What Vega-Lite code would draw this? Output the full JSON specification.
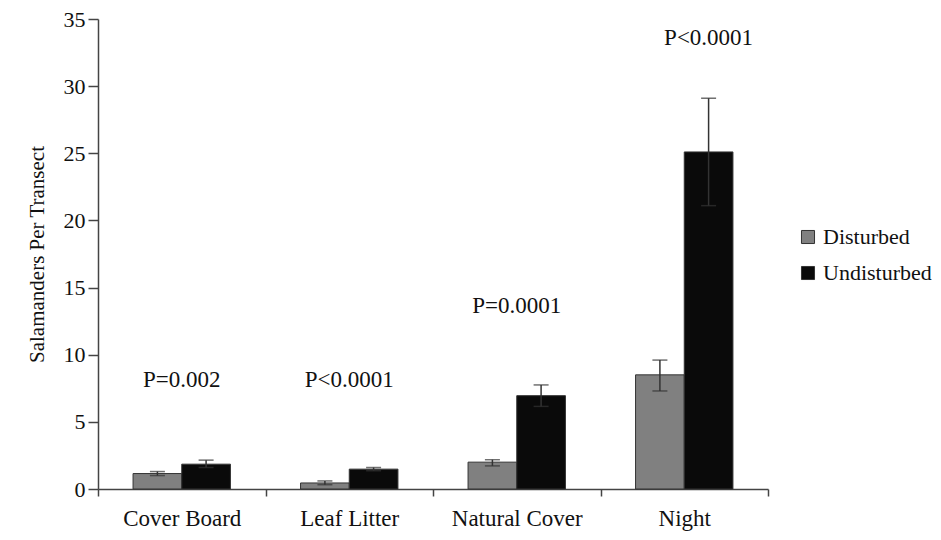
{
  "$schema": "https://vega.github.io/schema/vega-lite/v6.json",
  "autosize": {"type": "none"},
  "width": 670,
  "height": 470,
  "padding": {"left": 98, "top": 19, "right": 173, "bottom": 51},
  "background": "white",
  "config": {
    "font": "'Liberation Serif', 'Times New Roman', serif",
    "view": {"stroke": null},
    "axis": {
      "domainColor": "#444",
      "tickColor": "#444",
      "domainWidth": 1.5,
      "tickWidth": 1.5,
      "labelColor": "#111",
      "titleColor": "#111",
      "labelFont": "'Liberation Serif', 'Times New Roman', serif",
      "titleFont": "'Liberation Serif', 'Times New Roman', serif",
      "grid": false
    }
  },
  "datasets": {
    "counts": [
      {"method": "Cover Board", "site": "Disturbed", "mean": 1.15, "lo": 1.0, "hi": 1.3},
      {"method": "Cover Board", "site": "Undisturbed", "mean": 1.85, "lo": 1.6, "hi": 2.15},
      {"method": "Leaf Litter", "site": "Disturbed", "mean": 0.45, "lo": 0.32, "hi": 0.6},
      {"method": "Leaf Litter", "site": "Undisturbed", "mean": 1.48, "lo": 1.36, "hi": 1.6},
      {"method": "Natural Cover", "site": "Disturbed", "mean": 2.0, "lo": 1.72, "hi": 2.18},
      {"method": "Natural Cover", "site": "Undisturbed", "mean": 6.95, "lo": 6.15, "hi": 7.75},
      {"method": "Night", "site": "Disturbed", "mean": 8.5, "lo": 7.3, "hi": 9.6},
      {"method": "Night", "site": "Undisturbed", "mean": 25.1, "lo": 21.1, "hi": 29.1}
    ],
    "tests": [
      {"method": "Cover Board", "p": "P=0.002", "at": 8.1},
      {"method": "Leaf Litter", "p": "P<0.0001", "at": 8.1},
      {"method": "Natural Cover", "p": "P=0.0001", "at": 13.6},
      {"method": "Night", "p": "P<0.0001", "at": 33.6}
    ]
  },
  "layer": [
    {
      "data": {"name": "counts"},
      "mark": {"type": "bar", "stroke": "#333", "strokeWidth": 1},
      "encoding": {
        "x": {
          "field": "method", "type": "nominal", "sort": null,
          "scale": {"paddingInner": 0, "paddingOuter": 0},
          "axis": {
            "title": null, "labelAngle": 0, "labelFontSize": 23,
            "tickBand": "extent", "tickSize": 7, "labelPadding": 11
          }
        },
        "xOffset": {
          "field": "site", "type": "nominal", "sort": null,
          "scale": {"paddingInner": 0, "paddingOuter": 0.72}
        },
        "y": {
          "field": "mean", "type": "quantitative",
          "scale": {"domain": [0, 35], "nice": false},
          "axis": {
            "values": [0, 5, 10, 15, 20, 25, 30, 35],
            "title": "Salamanders Per Transect",
            "titleFontSize": 21, "titleFontWeight": "normal",
            "titlePadding": 16,
            "labelFontSize": 22, "tickSize": 10, "labelPadding": 3
          }
        },
        "color": {
          "field": "site", "type": "nominal",
          "scale": {"domain": ["Disturbed", "Undisturbed"], "range": ["#808080", "#0a0a0a"]},
          "legend": {
            "title": null, "orient": "none", "legendX": 699, "legendY": 207,
            "symbolType": "square", "symbolSize": 170,
            "symbolStrokeColor": "#333", "symbolStrokeWidth": 1,
            "labelFontSize": 22, "labelColor": "#111",
            "labelFont": "'Liberation Serif', 'Times New Roman', serif",
            "labelOffset": 4, "rowPadding": 14
          }
        }
      }
    },
    {
      "data": {"name": "counts"},
      "mark": {"type": "rule", "color": "#333", "strokeWidth": 1.5},
      "encoding": {
        "x": {"field": "method", "type": "nominal", "sort": null},
        "xOffset": {"field": "site", "type": "nominal", "sort": null},
        "y": {"field": "lo", "type": "quantitative"},
        "y2": {"field": "hi"}
      }
    },
    {
      "data": {"name": "counts"},
      "mark": {"type": "tick", "color": "#333", "size": 15, "thickness": 1.5, "orient": "horizontal"},
      "encoding": {
        "x": {"field": "method", "type": "nominal", "sort": null},
        "xOffset": {"field": "site", "type": "nominal", "sort": null},
        "y": {"field": "hi", "type": "quantitative"}
      }
    },
    {
      "data": {"name": "counts"},
      "mark": {"type": "tick", "color": "#333", "size": 15, "thickness": 1.5, "orient": "horizontal"},
      "encoding": {
        "x": {"field": "method", "type": "nominal", "sort": null},
        "xOffset": {"field": "site", "type": "nominal", "sort": null},
        "y": {"field": "lo", "type": "quantitative"}
      }
    },
    {
      "data": {"name": "tests"},
      "transform": [{"filter": "datum.method !== 'Night'"}],
      "mark": {"type": "text", "fontSize": 23, "color": "#111", "baseline": "middle", "font": "'Liberation Serif', 'Times New Roman', serif"},
      "encoding": {
        "x": {"field": "method", "type": "nominal", "sort": null},
        "y": {"field": "at", "type": "quantitative"},
        "text": {"field": "p"}
      }
    },
    {
      "data": {"name": "tests"},
      "transform": [{"filter": "datum.method === 'Night'"}],
      "mark": {"type": "text", "fontSize": 23, "color": "#111", "baseline": "middle", "font": "'Liberation Serif', 'Times New Roman', serif"},
      "encoding": {
        "x": {"field": "method", "type": "nominal", "sort": null},
        "xOffset": {"datum": "Undisturbed"},
        "y": {"field": "at", "type": "quantitative"},
        "text": {"field": "p"}
      }
    }
  ]
}
